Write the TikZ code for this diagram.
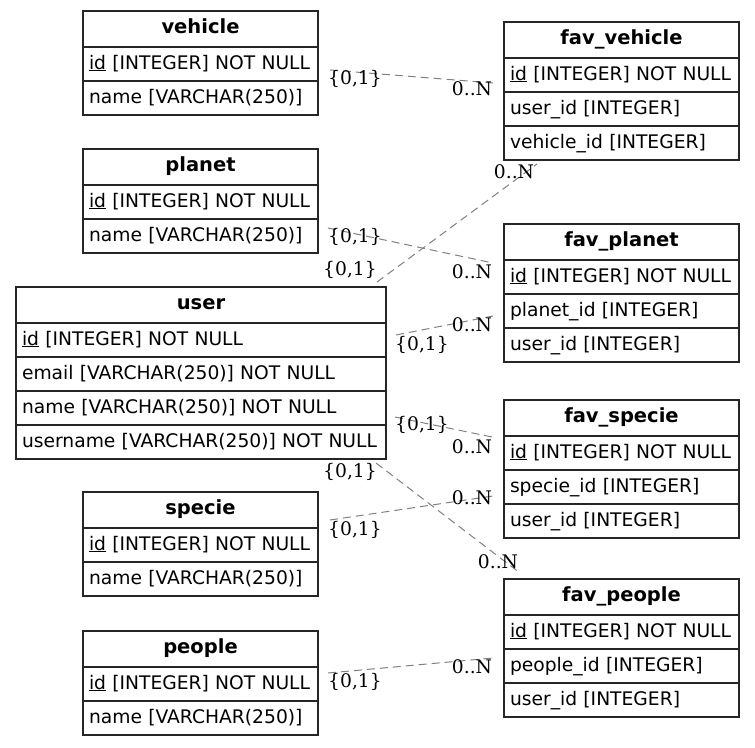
\documentclass[tikz,border=0pt]{standalone}
\usepackage{fontspec}
\setmainfont{DejaVu Sans}
\newfontfamily\cardfont{DejaVu Serif}
\usetikzlibrary{positioning}

\begin{document}
\begin{tikzpicture}[x=1pt,y=-1pt,
	tblhead/.style={draw=black!85, line width=1.2pt, outer sep=0pt, inner sep=0pt, minimum width=235pt, minimum height=36pt,
		text height=14pt, text depth=5pt, font=\fontsize{19.5}{22}\selectfont\bfseries},
	tblrow/.style={draw=black!85, line width=1.2pt, outer sep=0pt, inner xsep=6pt, inner ysep=0pt, minimum height=34pt,
		text width=223pt, align=left, text height=14pt, text depth=4pt, font=\fontsize{18.7}{22}\selectfont},
	rel/.style={draw=gray, dash pattern=on 8pt off 5pt, line width=1pt},
	card/.style={inner sep=0pt, font=\cardfont\fontsize{18.7}{22}\selectfont}]
	\useasboundingbox (0,0) rectangle (755,747);

	% left column
	\node[tblhead] (vehicle) at (200.5,29) {vehicle};
	\node[tblrow, below=0pt of vehicle] (vehicle-1) {\underline{id} [INTEGER] NOT NULL};
	\node[tblrow, below=0pt of vehicle-1] (vehicle-2) {name [VARCHAR(250)]};

	\node[tblhead] (planet) at (200.5,167) {planet};
	\node[tblrow, below=0pt of planet] (planet-1) {\underline{id} [INTEGER] NOT NULL};
	\node[tblrow, below=0pt of planet-1] (planet-2) {name [VARCHAR(250)]};

	\node[tblhead, minimum width=370pt] (user) at (201,305) {user};
	\node[tblrow, text width=358pt, below=0pt of user] (user-1) {\underline{id} [INTEGER] NOT NULL};
	\node[tblrow, text width=358pt, below=0pt of user-1] (user-2) {email [VARCHAR(250)] NOT NULL};
	\node[tblrow, text width=358pt, below=0pt of user-2] (user-3) {name [VARCHAR(250)] NOT NULL};
	\node[tblrow, text width=358pt, below=0pt of user-3] (user-4) {username [VARCHAR(250)] NOT NULL};

	\node[tblhead] (specie) at (200.5,510) {specie};
	\node[tblrow, below=0pt of specie] (specie-1) {\underline{id} [INTEGER] NOT NULL};
	\node[tblrow, below=0pt of specie-1] (specie-2) {name [VARCHAR(250)]};

	\node[tblhead] (people) at (200.5,649) {people};
	\node[tblrow, below=0pt of people] (people-1) {\underline{id} [INTEGER] NOT NULL};
	\node[tblrow, below=0pt of people-1] (people-2) {name [VARCHAR(250)]};

	% right column
	\node[tblhead] (fvehicle) at (621.5,40) {fav\_vehicle};
	\node[tblrow, below=0pt of fvehicle] (fvehicle-1) {\underline{id} [INTEGER] NOT NULL};
	\node[tblrow, below=0pt of fvehicle-1] (fvehicle-2) {user\_id [INTEGER]};
	\node[tblrow, below=0pt of fvehicle-2] (fvehicle-3) {vehicle\_id [INTEGER]};

	\node[tblhead] (fplanet) at (621.5,242) {fav\_planet};
	\node[tblrow, below=0pt of fplanet] (fplanet-1) {\underline{id} [INTEGER] NOT NULL};
	\node[tblrow, below=0pt of fplanet-1] (fplanet-2) {planet\_id [INTEGER]};
	\node[tblrow, below=0pt of fplanet-2] (fplanet-3) {user\_id [INTEGER]};

	\node[tblhead] (fspecie) at (621.5,418) {fav\_specie};
	\node[tblrow, below=0pt of fspecie] (fspecie-1) {\underline{id} [INTEGER] NOT NULL};
	\node[tblrow, below=0pt of fspecie-1] (fspecie-2) {specie\_id [INTEGER]};
	\node[tblrow, below=0pt of fspecie-2] (fspecie-3) {user\_id [INTEGER]};

	\node[tblhead] (fpeople) at (621.5,597) {fav\_people};
	\node[tblrow, below=0pt of fpeople] (fpeople-1) {\underline{id} [INTEGER] NOT NULL};
	\node[tblrow, below=0pt of fpeople-1] (fpeople-2) {people\_id [INTEGER]};
	\node[tblrow, below=0pt of fpeople-2] (fpeople-3) {user\_id [INTEGER]};

	% relations
	\draw[rel] ([shift={(12,6)}]vehicle-1.east) -- ([shift={(-11,8)}]fvehicle-1.west);
	\draw[rel] ([shift={(10,-8)}]planet-2.east) -- ([shift={(-11,-14)}]fplanet-1.west);
	\draw[rel] ([shift={(-9,-5)}]user.north east) -- ([shift={(33,4)}]fvehicle-3.south west);
	\draw[rel] ([shift={(10,-5)}]user-1.east) -- ([shift={(-11,5)}]fplanet-2.west);
	\draw[rel] ([shift={(9,9)}]user-3.east) -- ([shift={(-12,1)}]fspecie.south west);
	\draw[rel] ([shift={(-10,4)}]user-4.south east) -- ([shift={(16,-6)}]fpeople.north west);
	\draw[rel] ([shift={(12,10)}]specie.east) -- ([shift={(-11,9)}]fspecie-2.west);
	\draw[rel] ([shift={(10,-11)}]people-1.east) -- ([shift={(-11,-8)}]fpeople-2.west);

	% cardinalities
	\node[card] (c1a) at (355,79) {\{0,1\}};
	\node[card] (c1b) at (472,89) {0..N};
	\node[card] (c2a) at (355,237) {\{0,1\}};
	\node[card] (c2b) at (472,272) {0..N};
	\node[card] (c3a) at (350,270) {\{0,1\}};
	\node[card] (c3b) at (514,172) {0..N};
	\node[card] (c4a) at (422,345) {\{0,1\}};
	\node[card] (c4b) at (472,325) {0..N};
	\node[card] (c5a) at (422,425) {\{0,1\}};
	\node[card] (c5b) at (472,447) {0..N};
	\node[card] (c6a) at (350,472) {\{0,1\}};
	\node[card] (c6b) at (498,562) {0..N};
	\node[card] (c7a) at (355,530) {\{0,1\}};
	\node[card] (c7b) at (472,498) {0..N};
	\node[card] (c8a) at (355,682) {\{0,1\}};
	\node[card] (c8b) at (472,667) {0..N};
\end{tikzpicture}
\end{document}
